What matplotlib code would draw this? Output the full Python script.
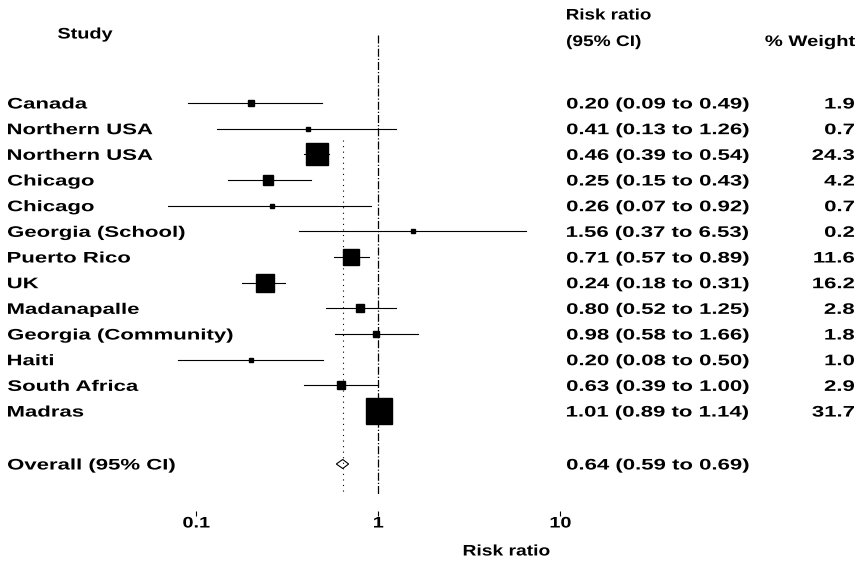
import numpy as np
from matplotlib import pyplot as plt
from matplotlib.font_manager import FontProperties
from matplotlib.textpath import TextPath
from matplotlib.patches import PathPatch
from matplotlib.transforms import Affine2D
from matplotlib.ticker import FixedLocator, NullLocator, NullFormatter

#----------------------------Data----------------------------------------------#
studies = ['Canada', 'Northern USA', 'Northern USA', 'Chicago', 'Chicago',
           'Georgia (School)', 'Puerto Rico', 'UK', 'Madanapalle',
           'Georgia (Community)', 'Haiti', 'South Africa', 'Madras']
rr = [0.20, 0.41, 0.46, 0.25, 0.26, 1.56, 0.71, 0.24, 0.80, 0.98, 0.20, 0.63, 1.01]
lo = [0.09, 0.13, 0.39, 0.15, 0.07, 0.37, 0.57, 0.18, 0.52, 0.58, 0.08, 0.39, 0.89]
hi = [0.49, 1.26, 0.54, 0.43, 0.92, 6.53, 0.89, 0.31, 1.25, 1.66, 0.50, 1.00, 1.14]
weight = [1.9, 0.7, 24.3, 4.2, 0.7, 0.2, 11.6, 16.2, 2.8, 1.8, 1.0, 2.9, 31.7]
overall_rr = 0.64
overall_lo = 0.59
overall_hi = 0.69
tick_vals = [0.1, 1, 10]
tick_labels = ['0.1', '1', '10']

#----------------------------Setup---------------------------------------------#
W, H = 862, 561
fig = plt.figure(figsize=(W / 100, H / 100), dpi=100)
fp = FontProperties(family='Liberation Sans', weight='bold')
font_px = 11 * 100 / 72.0

# pixel layout: 0.1 -> x=196, 1 -> x=378, 10 -> x=560 ; first row at y=103
dec = 182.0
x_one = 378.0
row0 = 103.0
row_step = 25.67

xmin, xmax = 0.07, 14.0
ax_left = x_one + dec * np.log10(xmin)
ax_right = x_one + dec * np.log10(xmax)
ax_top, ax_bot = 30.0, 511.0
ax = fig.add_axes([ax_left / W, 1 - ax_bot / H,
                   (ax_right - ax_left) / W, (ax_bot - ax_top) / H])
ax.set_xscale('log')
ax.set_xlim(xmin, xmax)
ax.set_ylim((ax_bot - row0) / row_step, (ax_top - row0) / row_step)

for s in ax.spines.values():
    s.set_visible(False)
ax.yaxis.set_major_locator(NullLocator())
ax.yaxis.set_minor_locator(NullLocator())
ax.xaxis.set_major_locator(FixedLocator(tick_vals))
ax.xaxis.set_minor_locator(NullLocator())
ax.xaxis.set_major_formatter(NullFormatter())
ax.tick_params(axis='x', length=3.6, width=0.8)

#----------------------------Forest--------------------------------------------#
ys = np.arange(len(studies))
overall_y = (464 - row0) / row_step

# line of no effect and overall estimate
ax.plot([1, 1], [(35 - row0) / row_step, (495 - row0) / row_step],
        color='black', lw=0.9, ls='-.')
ax.plot([overall_rr, overall_rr], [(140 - row0) / row_step, (495 - row0) / row_step],
        color='black', lw=0.8, ls=(0, (1, 4)))

for y, r, l, h, w in zip(ys, rr, lo, hi, weight):
    ax.plot([l, h], [y, y], color='black', lw=0.8)
    side_px = max(4.6 * np.sqrt(w), 4)
    ax.plot(r, y, marker='s', color='black', markersize=side_px * 0.72, lw=0)

# overall diamond
dh = 4.5 / row_step
ax.fill([overall_lo, overall_rr, overall_hi, overall_rr],
        [overall_y, overall_y - dh, overall_y, overall_y + dh],
        facecolor='white', edgecolor='black', lw=0.8)

#----------------------------Text (wide lettering like the scan)---------------#
def wide_text(x, base_y, s, ha='left', sx=1.45):
    tp = TextPath((0, 0), s, size=font_px, prop=fp)
    ext = tp.get_extents()
    width = ext.x1 * sx
    if ha == 'right':
        x0 = x - width
    elif ha == 'center':
        x0 = x - width / 2
    else:
        x0 = x - ext.x0 * sx
    tr = Affine2D().scale(sx, 1).translate(x0, H - base_y)
    fig.add_artist(PathPatch(tp, facecolor='black', lw=0, transform=tr))

wide_text(58, 38.5, 'Study', sx=1.30)
wide_text(567, 19.5, 'Risk ratio', sx=1.23)
wide_text(567, 46, '(95% CI)', sx=1.25)
wide_text(855, 46, '% Weight', ha='right', sx=1.32)

for i, (name, r, l, h, w) in enumerate(zip(studies, rr, lo, hi, weight)):
    base = row0 + row_step * i + 5.5
    wide_text(8, base, name)
    wide_text(567, base, '%.2f (%.2f to %.2f)' % (r, l, h))
    wide_text(854, base, '%.1f' % w, ha='right')

wide_text(8, 469.5, 'Overall (95% CI)')
wide_text(567, 469.5, '%.2f (%.2f to %.2f)' % (overall_rr, overall_lo, overall_hi))

for v, lab in zip(tick_vals, tick_labels):
    wide_text(x_one + dec * np.log10(v), 527.5, lab, ha='center', sx=1.3)

wide_text(506, 555.5, 'Risk ratio', ha='center', sx=1.26)

fig.savefig('out.png', dpi=100, facecolor='white')
